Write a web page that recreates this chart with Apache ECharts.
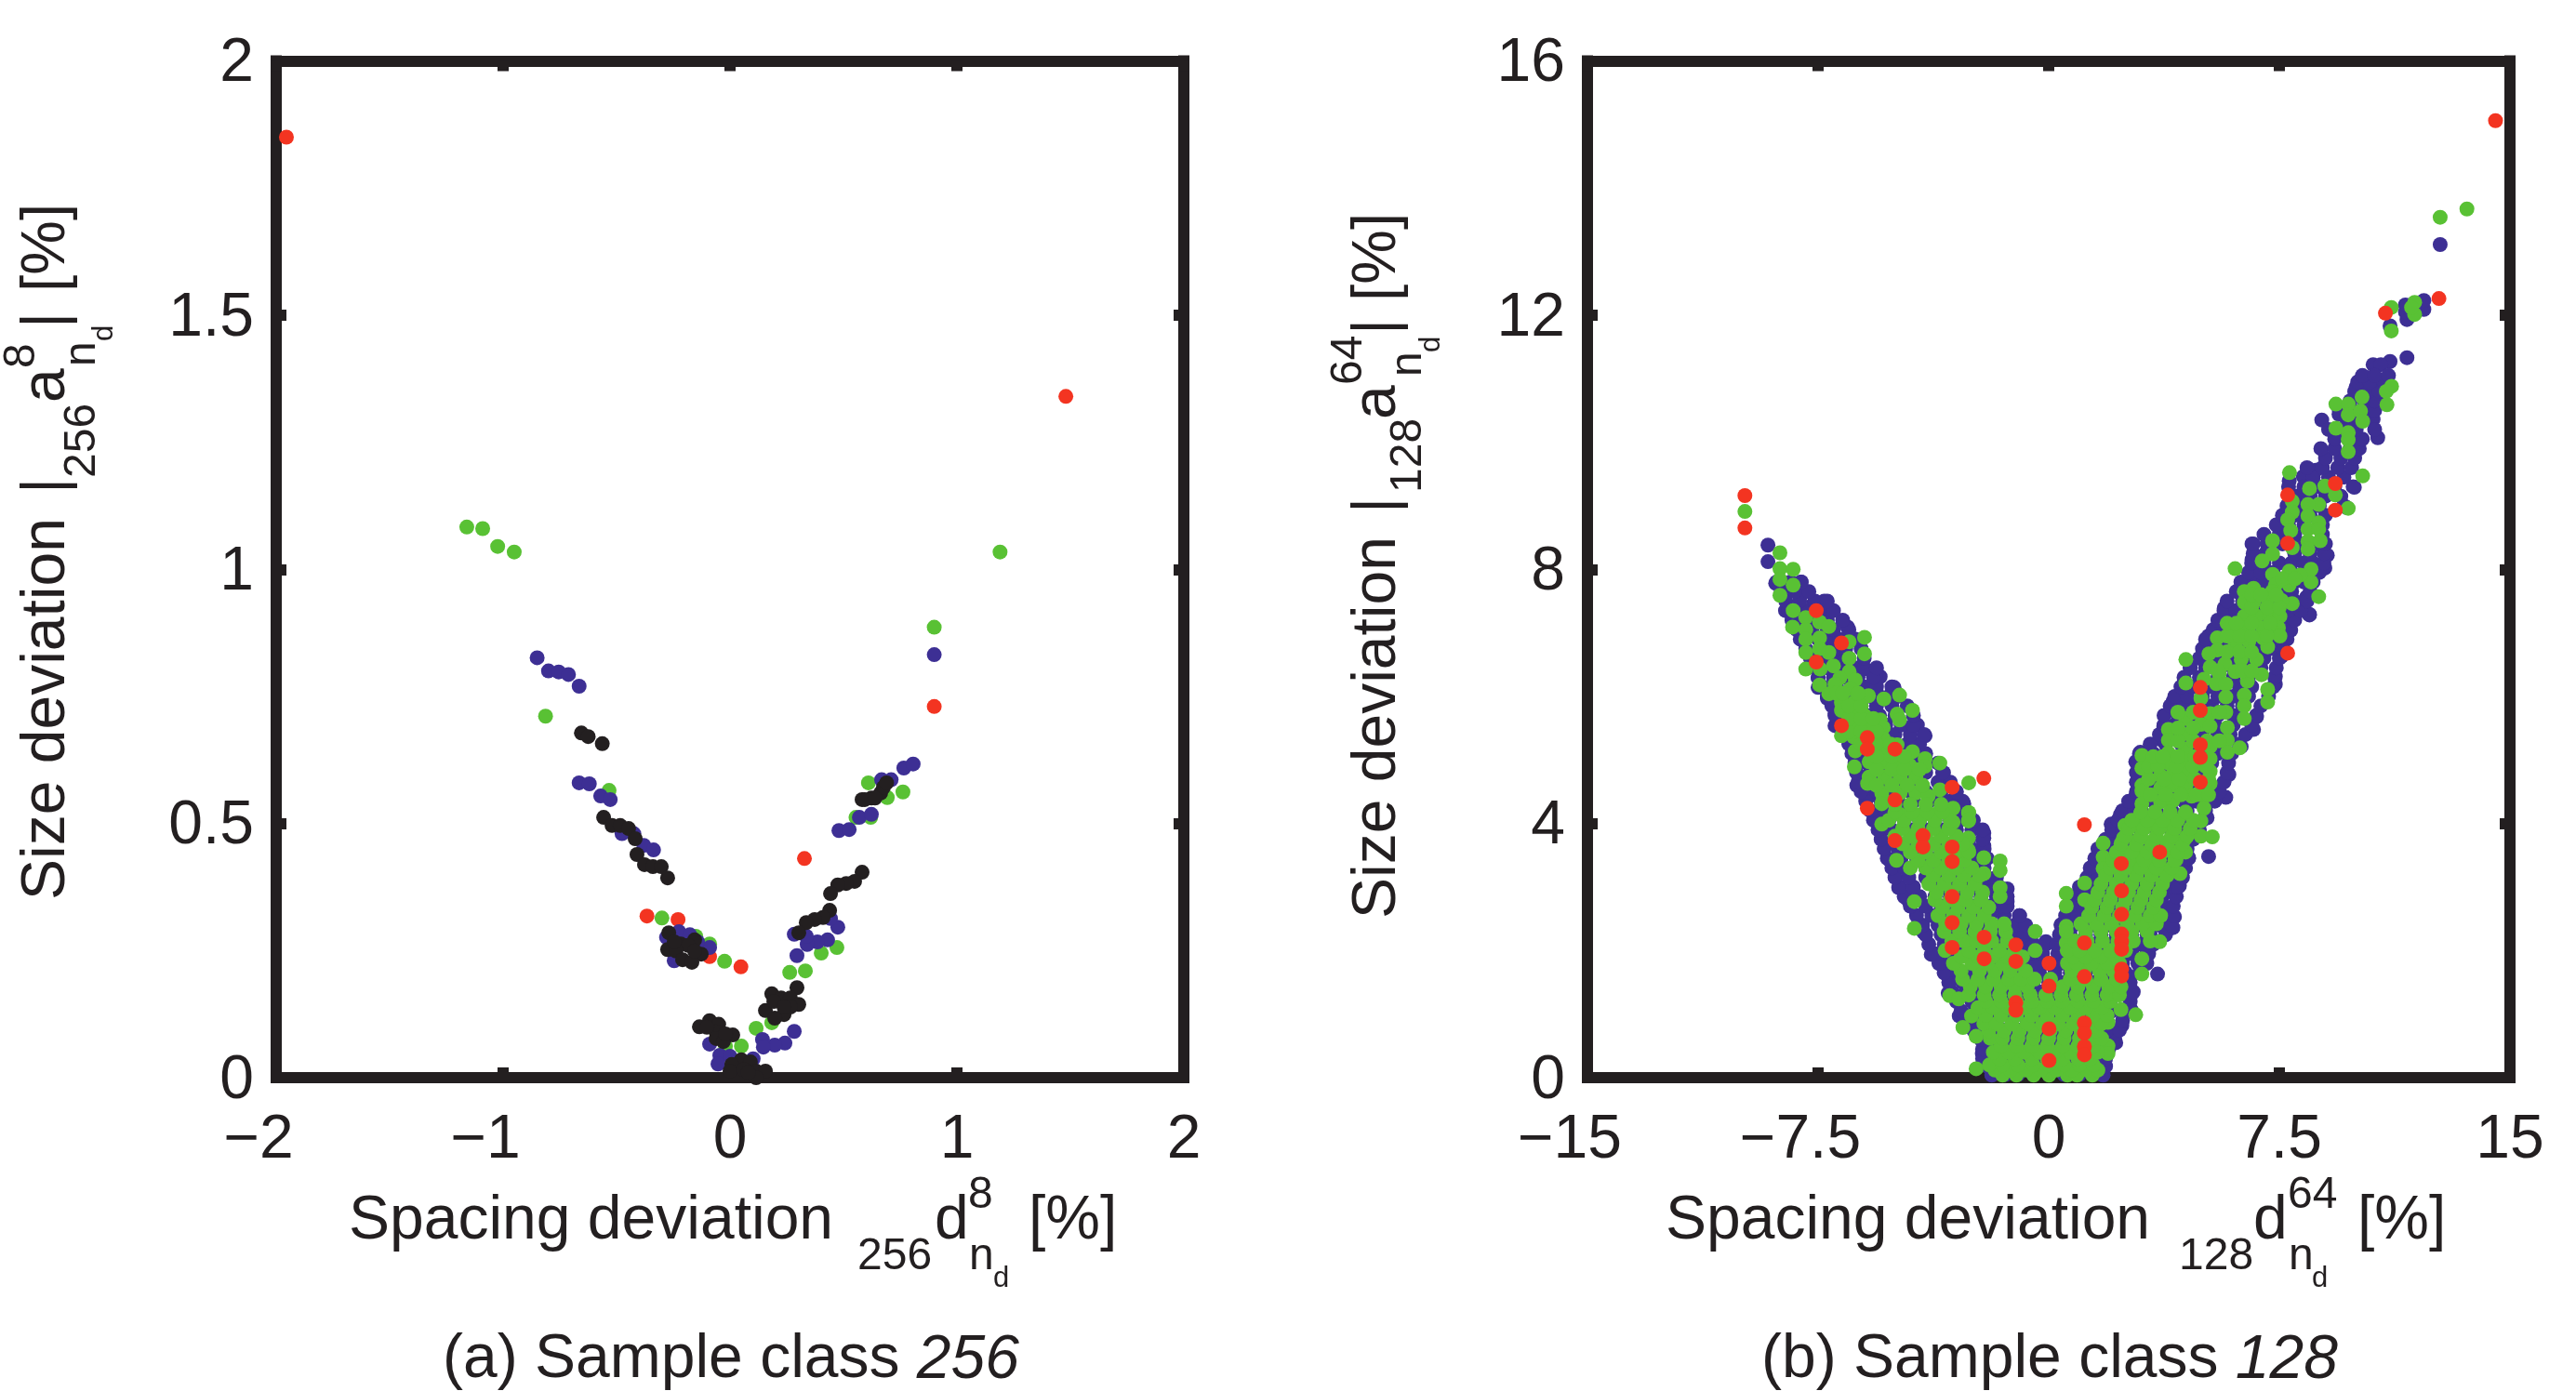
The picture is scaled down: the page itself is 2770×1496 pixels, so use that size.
<!DOCTYPE html>
<html>
<head>
<meta charset="utf-8">
<title>Size deviation vs spacing deviation</title>
<script src="https://cdn.jsdelivr.net/npm/echarts@6/dist/echarts.min.js"></script>
<style>
html, body { margin: 0; padding: 0; background: #fff; }
#chart { width: 2770px; height: 1496px; }
</style>
</head>
<body>
<div id="chart"></div>
<script>
// tick labels
var xTicks256 = ['\u22122', '\u22121', '0', '1', '2'];
var yTicks256 = ['0', '0.5', '1', '1.5', '2'];
var xTicks128 = ['\u221215', '\u22127.5', '0', '7.5', '15'];
var yTicks128 = ['0', '4', '8', '12', '16'];

// (a) sample class 256, [x, y]
var red256 = [[-1.955,1.85],[1.48,1.34],[0.9,0.73],[-0.366,0.318],[-0.229,0.311],[-0.09,0.238],[0.048,0.218],[0.328,0.431]];
var green256 = [[-1.16,1.083],[-1.09,1.08],[-1.024,1.045],[-0.951,1.034],[1.19,1.034],[0.9,0.886],[-0.813,0.711],
    [-0.533,0.565],[0.61,0.58],[0.762,0.562],[0.693,0.551],[0.555,0.512],[0.62,0.512],[-0.3,0.314],[-0.151,0.278],
    [-0.09,0.263],[-0.024,0.229],[0.263,0.207],[0.332,0.21],[0.402,0.245],[0.471,0.256],[0.115,0.097],[0.184,0.108],
    [0.05,0.062],[-0.02,0.062]];
var blue256 = [[-0.85,0.826],[-0.8,0.8],[-0.755,0.798],[-0.712,0.793],[-0.665,0.77],[0.9,0.832],[-0.665,0.58],[-0.62,0.578],
    [-0.57,0.554],[-0.528,0.547],[-0.476,0.48],[-0.424,0.48],[-0.38,0.457],[-0.337,0.448],[-0.28,0.276],[-0.225,0.287],
    [-0.177,0.281],[-0.246,0.23],[-0.09,0.256],[-0.143,0.267],[0.48,0.486],[0.525,0.488],[0.57,0.512],[0.623,0.518],
    [0.668,0.586],[0.71,0.586],[0.766,0.609],[0.807,0.617],[0.475,0.296],[0.43,0.271],[0.385,0.267],[0.34,0.262],
    [0.283,0.282],[0.336,0.278],[0.443,0.313],[0.295,0.24],[0.283,0.091],[0.242,0.068],[0.197,0.064],[0.143,0.075],
    [0.147,0.06],[-0.09,0.066],[-0.045,0.044],[0,0.042],[-0.053,0.027],[0.102,0.037]];
var black256 = [[-0.655,0.678],[-0.625,0.671],[-0.563,0.657],[-0.557,0.512],[-0.52,0.496],[-0.484,0.496],[-0.447,0.49],
    [-0.418,0.47],[-0.41,0.439],[-0.377,0.419],[-0.34,0.415],[-0.303,0.415],[-0.275,0.393],[-0.27,0.285],[-0.156,0.271],
    [-0.275,0.252],[-0.217,0.263],[-0.184,0.26],[-0.238,0.249],[-0.127,0.243],[-0.209,0.232],[-0.168,0.227],[-0.156,0.249],
    [-0.246,0.267],[0.582,0.404],[0.549,0.386],[0.512,0.382],[0.475,0.379],[0.443,0.362],[0.439,0.329],[0.41,0.315],
    [0.373,0.311],[0.336,0.305],[0.303,0.285],[0.582,0.547],[0.623,0.55],[0.664,0.56],[0.676,0.571],[0.594,0.547],
    [0.639,0.55],[0.69,0.58],[0.295,0.177],[0.184,0.165],[0.225,0.157],[0.266,0.157],[0.303,0.144],[0.266,0.139],
    [0.156,0.132],[0.238,0.124],[0.197,0.117],[0.193,0.15],[0.238,0.139],[-0.135,0.1],[-0.09,0.112],[-0.05,0.105],
    [-0.061,0.09],[-0.102,0.099],[0.012,0.084],[-0.061,0.077],[-0.029,0.071],[-0.02,0.086],[0.05,0.035],[0.008,0.026],
    [0.09,0.031],[0,0.013],[0.06,0.016],[0.115,0.013],[0.156,0.013],[0.115,0],[0.08,0.01]];

// (b) sample class 128, [x, y]
var red128 = [[14.53,15.06],[12.69,12.26],[10.95,12.03],[-9.88,9.16],[-9.88,8.65],[9.32,9.35],[7.77,9.17],[9.32,8.93],[7.77,8.41],
    [7.77,6.68],[4.93,6.14],[4.93,5.78],[4.93,5.24],[4.93,5.04],[4.93,4.65],[3.61,3.55],[2.36,3.37],[1.16,3.98],[2.37,2.94],
    [2.37,2.57],[2.37,2.26],[2.37,2.14],[2.37,2.02],[2.37,1.71],[2.37,1.6],[1.16,2.12],[1.16,1.59],[0.01,1.8],[0.01,1.44],
    [-1.07,2.09],[-1.07,1.83],[-1.07,1.18],[-1.07,1.06],[0.01,0.77],[0.01,0.27],[1.16,0.86],[1.16,0.7],[1.16,0.49],[1.16,0.36],
    [-2.1,2.21],[-2.1,1.87],[-3.14,2.85],[-3.14,2.44],[-3.14,2.05],[-3.14,3.63],[-3.14,3.4],[-4.09,3.81],[-4.09,3.63],[-5,4.37],
    [-5,3.73],[-3.14,4.57],[-7.56,7.35],[-6.74,6.84],[-7.56,6.54],[-6.74,5.54],[-5.9,5.35],[-5.9,5.17],[-5,5.17],[-5.9,4.24],
    [-2.11,4.71]];

// outer dots of the blue band plus stray ones
var blueEdge128 = [[12.73,13.11],[11.1,11.83],[11.65,11.93],[11.6,12.05],[12.2,12.09],[12.2,12.23],[11.6,12.16],[11.65,11.33],
    [11.1,11.27],[10.55,11.22],[10.8,11.22],[10.3,11.02],[10.6,10.97],[10.4,10.85],[10.7,10.78],[10,10.87],[8.88,10.35],
    [9.44,10.44],[10.7,10.07],[10.55,10.36],[10.7,10.66],[8.68,9.56],[8.28,9.46],[7.82,9.39],[9.94,9.29],[9.69,8.97],
    [9.06,8.22],[8.98,8.02],[8.48,7.29],[8.48,7.28],[8.38,7.56],[7.42,8.69],[6.61,8.4],[6.61,8.15],[6.61,7.8],[6.21,7.66],
    [5.71,7.39],[5.55,7.17],[5.2,6.95],[4.6,6.46],[4.04,5.92],[4.04,5.8],[3.74,5.53],[3.69,5.31],[2.98,5.12],[2.83,4.97],
    [2.83,4.43],[2.33,4.14],[2.03,3.99],[1.37,3.17],[1.02,2.97],[0.41,2.41],[5.2,3.48],[5.15,4.09],[5.76,4.41],[5.86,4.77],
    [6.26,5.21],[6.66,5.48],[6.76,5.68],[7.37,6.19],[7.37,6.31],[7.57,6.63],[7.87,7.04],[7.92,7.19],[3.54,1.63],[4.09,2.53],
    [4.04,2.36],[4.25,3.02],[4.55,3.46],[-9.13,8.38],[-9.13,8.12],[-8.88,7.78],[-8.56,7.35],[-8.08,6.9],[-8.05,7.8],[-8.05,7.6],
    [-7.3,7.5],[-7.65,7.46],[-6.54,7.09],[-6.29,6.9],[-5.99,6.43],[-5.48,6.31],[-5.63,6.34],[-5.03,6.14],[-4.27,5.55],[-4.02,5.38],
    [-4.02,5.07],[-3.42,4.8],[-2.81,4.34],[-2.11,3.85],[-2.76,4.31],[-2.11,3.77],[-2.11,3.65],[-1.35,2.97],[-1.35,2.77],[-0.95,2.55],
    [-0.7,2.33],[-0.09,2.14],[-7.5,6.29],[-7.5,6.14],[-7.2,5.97],[-6.95,5.73],[-6.95,5.54],[-6.29,4.97],[-6.24,4.6],[-5.84,4.43],
    [-5.53,4.14],[-5.43,3.9],[-5.18,3.43],[-4.88,2.99],[-4.58,2.8],[-4.07,2.29],[-3.82,1.94],[-3.57,1.8],[-3.27,1.6],[-3.27,1.33],
    [-2.91,0.97],[-2.16,0.63],[-2.16,0.38],[-1.85,0.04],[1.77,0.04],[2.18,0.55],[2.38,0.82],[2.68,1.07],[2.68,1.31],[3.19,1.8],[3.19,1.99]];
// rows of the blue band: first value is y, the rest are x
var blueRows128 = [
    [0.05,-1.85,-1.4,-1,-0.5,0,0.5,1,1.4,1.75],
    [0.18,-2,-1.6,-1.1,-0.6,-0.1,0.4,0.9,1.2,1.6,1.85],
    [0.3,-2.15,-1.7,-1.2,-0.7,-0.2,0.3,0.8,1.3,1.85],
    [0.45,-2.15,-1.75,-1.2,-0.7,-0.2,0.3,0.8,1.1,1.5,1.95],
    [0.6,-2.2,-1.8,-1.3,-0.8,-0.3,0.2,0.7,1.2,1.7,2.15],
    [0.75,-2.45,-2,-1.5,-1,-0.5,0,0.5,1,1.5,1.9,2.3],
    [0.9,-2.7,-2.2,-1.7,-1.2,-0.7,-0.3,0,0.3,0.6,0.9,1.2,1.5,1.8,2.4],
    [1.05,-2.85,-2.4,-2,-1.5,-1,-0.5,0,0.5,1,1.5,2.05,2.6],
    [1.2,-3,-2.5,-2,-1.5,-1,-0.5,0,0.5,1,1.5,2,2.65],
    [1.35,-3.15,-2.7,-2.2,-1.7,-1.2,-0.7,-0.2,0.3,0.8,1.3,1.8,2.3,2.75],
    [1.5,-3.25,-2.8,-2,-1.5,-1,-0.5,0,0.4,0.7,1,1.5,2,2.65],
    [1.65,-3.4,-2.95,-2.5,-2,-1.5,-1,-0.7,-0.3,0.2,0.7,1.2,1.7,2.2,2.5,2.95],
    [1.8,-3.55,-3.1,-2.3,-1.7,-1.2,-0.8,-0.4,0,0.4,0.8,1,1.5,2,2.4,2.9,3.15],
    [1.95,-3.7,-3.25,-2.8,-2.3,-1.8,-1.3,-1,-0.6,-0.2,0.3,0.8,1.3,1.8,2.3,2.7,3.25],
    [2.1,-3.9,-3.4,-2.5,-2,-1.5,-0.9,-0.5,-0.1,0.25,1,1.5,2,2.5,3,3.4],
    [2.25,-4,-3.5,-3,-2.5,-2,-1.6,-1.2,-0.8,0.35,0.7,1.2,1.7,2.2,2.7,3.2,3.3,3.8],
    [2.4,-4.1,-3.6,-3,-2.5,-2,-1.5,-1.1,-0.75,0.4,0.8,1.5,2,2.5,3,3.6,4],
    [2.55,-4.3,-3.8,-3.3,-2.8,-2.3,-1.9,-1.45,-0.95,0.55,0.95,1.4,1.9,2.4,2.9,3.5,4.05],
    [2.7,-4.5,-4,-3.5,-3,-2.5,-2,-1.6,-1.35,0.7,1.1,1.5,2,2.5,3,3.2,3.7,4.05],
    [2.85,-4.7,-4.2,-3.7,-3.2,-2.7,-2.2,-1.7,-1.35,0.85,1.25,1.7,2.2,2.7,3.2,3.7,4.15],
    [3,-4.85,-4.4,-3.5,-3,-2.5,-2,-1.6,1,1.5,2,2.5,3,3.5,3.9,4.2],
    [3.15,-5,-4.55,-4,-3.5,-3,-2.5,-2,-1.7,1.25,1.6,1.9,2.4,2.9,3.4,3.9,4.35],
    [3.3,-5.1,-4.7,-4,-3.5,-3,-2.5,-2.1,1.35,1.8,2.3,2.8,3.2,3.5,4.1,4.45],
    [3.45,-5.25,-4.8,-4.3,-3.8,-3.3,-2.8,-2.3,-2,1.5,1.9,2.3,2.8,3.3,3.8,4.1,4.55],
    [3.6,-5.35,-4.9,-4.3,-3.5,-3,-2.5,-2.1,1.6,2,2.5,3,3.5,4,4.5],
    [3.75,-5.45,-5,-4.5,-4,-3.5,-3,-2.6,-2.15,1.85,2.2,2.6,3,3.5,4,4.2,4.7],
    [3.9,-5.55,-5.1,-4.5,-4,-3.5,-3,-2.5,-2.15,2.05,2.4,3,3.5,4,4.5,4.9],
    [4.05,-5.7,-5.2,-4.7,-4.2,-3.7,-3.2,-2.9,-2.45,2.25,2.6,3,3.4,3.9,4.2,4.5,5],
    [4.2,-5.8,-5.3,-4.6,-4,-3.5,-3,-2.75,2.4,2.8,3,3.5,4,4.5,5.1],
    [4.35,-5.95,-5.45,-4.9,-4.4,-3.9,-3.5,-3.2,-2.8,2.6,3,3.4,3.9,4.4,4.8,5.4],
    [4.5,-6.1,-5.6,-5,-4.5,-4,-3.5,-3,2.85,3.2,3.5,4,4.5,5,5.55],
    [4.65,-6.2,-5.7,-5.2,-4.7,-4.2,-3.6,-3.2,2.85,3.2,3.6,4.1,4.6,5,5.1,5.7],
    [4.8,-6.25,-5.8,-5.3,-5,-4.5,-4,-3.45,2.85,3.3,3.6,4,4.5,5,5.8],
    [4.95,-6.3,-5.9,-5.4,-4.9,-4.4,-4,-3.6,2.9,3.3,3.7,4.2,4.7,5.1,5.3,5.85],
    [5.1,-6.4,-6,-5.5,-5,-4.4,-4,2.95,3.4,3.8,4.5,5,5.5,5.95],
    [5.25,-6.5,-6.1,-5.6,-5.1,-4.6,-4.2,3.3,3.8,4.3,4.8,5.1,5.5,6.2],
    [5.4,-6.6,-6.2,-5.6,-5,-4.5,-4.05,3.6,4,4.5,5,5.5,5.9,6.4],
    [5.55,-6.8,-6.3,-5.8,-5.3,-4.8,-4.4,3.75,4.1,4.4,4.9,5.4,6,6.6],
    [5.7,-6.95,-6.4,-5.9,-5.5,-5,-4.4,3.75,4.2,4.6,5,5.5,6,6.75],
    [5.85,-7.05,-6.6,-6.1,-5.6,-5.1,-4.6,3.95,4.4,4.8,5.3,5.8,6.3,6.9],
    [6,-7.2,-6.8,-6.3,-5.8,-5.5,-5.2,-4.9,4.1,4.5,5,5.5,6,6.5,7.15],
    [6.15,-7.35,-6.9,-6.4,-6,-5.6,-5.1,4.3,4.7,5.2,5.7,6.2,6.6,7.3],
    [6.3,-7.5,-7,-6.6,-6.2,-5.7,4.4,4.9,5,5.5,6,6.5,7.35],
    [6.45,-7.6,-7.2,-6.7,-6.2,-6,-5.6,4.6,5.1,5.6,6,6.5,6.9,7.4],
    [6.6,-7.75,-7.3,-6.9,-6.5,-6,4.9,5.3,5.5,6,6.5,7,7.5],
    [6.75,-7.9,-7.4,-6.9,-6.6,-6.1,5,5.4,5.8,6.3,6.8,7.2,7.6],
    [6.9,-8.05,-7.5,-7.2,-6.8,-6.3,5.1,5.5,6,6.5,7,7.4,7.75],
    [7.05,-8.2,-7.7,-7.2,-7,-6.5,5.35,5.7,6.1,6.6,7.1,7.3,7.85],
    [7.2,-8.35,-7.9,-7.5,-7.2,-6.7,5.5,5.9,6,6.5,7,7.5,8],
    [7.35,-8.45,-8,-7.4,-7,5.7,6.1,6.5,7,7.4,7.8,8.2],
    [7.5,-8.55,-8.1,-7.6,-7.2,5.8,6.3,6.6,7,7.5,8,8.4],
    [7.65,-8.7,-8.25,-7.8,6.1,6.6,7.2,7.6,7.9,8.5],
    [7.8,-8.85,-8.4,-8.05,6.25,6.7,7,7.5,8,8.3,8.6],
    [7.95,6.5,6.9,7.3,7.9,8.3,8.8],
    [8.1,6.6,7,7.5,7.9,8.3,8.6,8.95],
    [8.25,6.65,7.05,8,8.5,8.95],
    [8.4,6.65,7.1,7.6,8.2,8.7,9],
    [8.55,7,7.5,8,8.9],
    [8.7,7.4,7.8,8.3,8.9],
    [8.85,7.6,8,8.5,9],
    [9,7.75,8.2,8.8,9.6],
    [9.15,8.05,8.5,9,9.5],
    [9.3,7.8,8.3,8.8,9.3,9.9],
    [9.45,8.6,9.1,9.6],
    [9.6,8.4,8.9,9.4,9.85],
    [9.75,9,9.5,9.95],
    [9.9,8.85,9.3,9.8,10.1],
    [10.05,9.3,9.8,10.2],
    [10.2,9.1,9.5,10,10.6],
    [10.35,9.7,10.1],
    [10.5,9.45,9.9,10.3,10.6],
    [10.65,9.8,10.25,10.6],
    [10.8,9.95,10.4,10.75],
    [10.95,10.05,10.45,10.9],
    [11.05,10.2,10.6,11.05]
];

var greenDots128 = [[12.73,13.54],[13.6,13.67],[-9.88,8.91],[11.14,12.12],[11.9,12.2],[11.9,12.01],[11.14,11.75],[11.8,12.12],
    [11.15,10.88],[10.98,10.8],[11,10.59],[10.19,10.71],[9.34,10.6],[9.74,10.6],[9.74,10.43],[10.14,10.49],[10.21,10.33],[9.34,10.22],
    [9.74,10.15],[9.74,10.04],[9.74,9.85],[10.21,9.47],[7.83,9.52],[9.32,9.17],[9.74,8.96],[8.48,9.27],[8.98,9.31],[8.78,9.02],
    [8.43,9.02],[7.92,9.07],[7.92,8.9],[7.77,8.78],[7.87,8.61],[7.92,8.34],[8.43,8.84],[8.78,8.73],[8.43,8.63],[8.78,8.63],[8.43,8.44],
    [8.83,8.45],[8.43,8.32],[7.28,8.45],[7.28,8.24],[6.94,8.13],[6.06,8.01],[8.53,8],[8.53,7.8],[8.78,7.57],[7.82,7.97],[8.18,7.91],
    [7.28,7.92],[7.82,7.75],[7.37,7.75],[7.92,7.46],[7.27,7.65],[7.57,7.51],[7.12,7.53],[6.66,7.7],[6.36,7.65],[6.36,7.48],[6.66,7.48],
    [6.36,7.26],[6.76,7.26],[7.17,7.26],[7.52,7.26],[6.06,7.08],[6.46,7.08],[6.97,7.08],[7.47,7.08],[7.52,6.95],[7.12,6.78],[6.06,6.82],
    [6.51,6.87],[6.97,6.92],[5.48,6.92],[5.48,6.73],[5.21,6.67],[4.46,6.58],[5.25,6.46],[5.73,6.51],[6.26,6.58],[6.76,6.58],[6.92,6.34],
    [6.46,6.24],[6.06,6.39],[5.55,6.36],[5.05,6.27],[4.46,6.21],[5.45,6.2],[5.76,6.19],[7.12,6.11],[7.12,5.91],[6.36,6.02],[6.36,5.85],
    [6.36,5.65],[5.76,5.99],[5.76,5.75],[5.81,5.51],[5.81,5.31],[5.81,5.12],[6.21,5.19],[4.95,5.97],[5.25,5.73],[4.45,5.65],[4.95,5.56],
    [5.25,5.53],[3.89,5.48],[3.89,5.31],[4.35,5.41],[3.89,5.11],[3.89,4.95],[3.03,5.07],[3.03,4.87],[5.25,5.21],[4.45,5.17],[5.25,5.02],
    [4.45,4.97],[5.25,4.82],[4.45,4.78],[5.25,4.63],[3.64,4.75],[4.04,4.78],[3.03,4.6],[3.03,4.51],[3.64,4.56],[4.04,4.6],[4.45,4.58],
    [5.05,4.43],[4.65,4.43],[3.03,4.31],[3.64,4.34],[4.04,4.36],[5.05,4.24],[4.45,4.17],[2.98,4.15],[3.44,4.14],[3.94,4.14],[4.95,4.04],
    [2.48,3.97],[2.98,3.95],[3.49,3.95],[3.99,3.95],[4.95,3.8],[5.32,3.79],[2.43,3.77],[2.93,3.75],[3.44,3.75],[3.94,3.75],[4.45,3.77],
    [1.77,3.69],[2.33,3.58],[2.88,3.55],[4.04,3.55],[4.45,3.55],[1.77,3.47],[3.34,3.36],[2.83,3.36],[1.77,3.29],[4.14,3.43],[4.27,3.21],
    [2.33,3.26],[3.74,3.26],[1.17,3.06],[0.57,2.9],[0.57,2.7],[1.17,2.8],[0.57,2.38],[0.57,2.12],[3.03,1.87],[3.03,1.63],[3.61,2.14],
    [2.35,1.07],[2.83,0.99],[1.93,0.87],[1.93,0.5],[1.93,0.38],[-2.36,0.14],[-2.36,0.65],[-2.79,0.79],[-2.51,0.97],[-3.22,1.29],[-2.93,1.24],
    [-4.37,2.77],[-4.37,2.35],[-1.58,3.41],[-1.58,3.26],[-1.58,2.99],[-1.58,2.85],[-2.11,3.46],[-2.11,3.21],[-2.61,3.77],[-2.61,3.58],
    [-2.61,4.17],[-2.61,4.04],[-5.43,3.99],[-5.38,4.38],[-4.95,3.42],[-8.74,8.26],[-8.74,8.01],[-8.31,8],[-8.74,7.84],[-8.31,7.75],[-8.74,7.59],
    [-8.31,7.35],[-8.33,7.09],[-7.9,7.24],[-7.45,7.17],[-7.15,7.1],[-7.9,7.05],[-7.9,6.9],[-7.45,6.92],[-6.49,6.86],[-5.99,6.93],[-5.99,6.67],
    [-6.49,6.6],[-7.45,6.75],[-7.15,6.69],[-7.9,6.69],[-7.9,6.43],[-7.43,6.43],[-7,6.48],[-6.49,6.39],[-6.29,6.26],[-6.79,6.29],[-7.45,6.18],
    [-7.15,6.04],[-6.95,6.19],[-6.44,6.12],[-5.86,6.01],[-5.36,5.96],[-4.85,6.02],[-4.43,5.78],[-4.93,5.72],[-4.85,5.63],[-6.74,5.9],[-6.34,5.9],
    [-6.74,5.78],[-6.34,5.75],[-5.99,5.7],[-5.48,5.63],[-6.34,5.56],[-5.84,5.51],[-5.38,5.51],[-6.74,5.38],[-6.34,5.36],[-5.38,5.34],[-6.29,5.14],
    [-4.93,5.24],[-5.43,5.17],[-4.43,5.13],[-4.02,5.02],[-4.02,4.9],[-3.54,4.95],[-6.32,4.89],[-5.84,4.97],[-5.33,4.97],[-4.93,4.97],[-4.53,4.92],
    [-5.84,4.73],[-5.89,4.63],[-5.33,4.73],[-4.83,4.73],[-4.32,4.73],[-5.43,4.48],[-5.43,4.31],[-4.83,4.48],[-4.32,4.48],[-3.92,4.43],[-3.54,4.53],
    [-2.6,4.64],[-3.11,4.24],[-3.11,4.02],[-3.52,4.21],[-2.6,4.17],[-2.6,4.06],[-4.83,4.14],[-4.32,4.14],[-3.82,4.14]];
// rows of the green core: first value is y, the rest are x
var greenRows128 = [
    [0.04,-1.5,-1.05,-0.49,0.01,0.61,0.92,1.42],
    [0.12,-1.75,-1.25,-0.75,-0.25,0.25,0.75,1.25,1.6],
    [0.2,-1.93,-1.5,-1,-0.5,0,0.5,1,1.45],
    [0.3,-1.6,-1.1,-0.55,-0.05,0.45,0.95,1.35],
    [0.4,-1.8,-1.3,-0.8,-0.3,0.2,0.7,1.2,1.6],
    [0.5,-1.55,-1.05,-0.55,-0.05,0.45,0.95,1.45],
    [0.62,-1.9,-1.5,-1,-0.5,0,0.5,1,1.42,1.72],
    [0.74,-1.95,-1.45,-0.95,-0.45,0.05,0.55,1.05,1.55],
    [0.85,-2.11,-1.7,-1.2,-0.7,-0.2,0.3,0.8,1.3,1.72],
    [0.98,-2.05,-1.55,-1.05,-0.55,-0.05,0.45,0.95,1.45,1.9],
    [1.1,-2.3,-1.8,-1.3,-0.8,-0.3,0.2,0.7,1.2,1.72],
    [1.2,-2.05,-1.55,-1.05,-0.55,-0.05,0.45,0.95,1.45,2],
    [1.3,-2.6,-2.1,-1.6,-1.1,-0.6,-0.1,0.4,0.9,1.4,1.9,2.3],
    [1.43,-2.55,-2.05,-1.55,-1.1,-0.7,0.45,0.95,1.45,1.95,2.35],
    [1.55,-2.8,-2.3,-1.8,-1.3,-0.9,-0.46,0.06,0.7,1.2,1.7,2.2],
    [1.68,-2.85,-2.25,-1.75,-1.25,-0.75,0.75,1.15,1.65,2.1],
    [1.8,-3.1,-2.5,-2,-1.5,-1,0.61,0.9,1.4,1.9,2.3],
    [1.9,-2.85,-2.3,-1.85,-1.35,-0.85,0.8,1.2,1.7,2.2],
    [2,-3.37,-2.6,-2.1,-1.6,-1.1,-0.44,0.6,1,1.5,2,2.5],
    [2.15,-3.15,-2.75,-2.35,-1.85,-1.35,0.85,1.25,1.75,2.25,2.75,3.3],
    [2.3,-3.4,-2.9,-2.4,-1.9,-1.4,-0.44,0.57,1.2,1.7,2.2,2.7,3.2],
    [2.42,-3.35,-2.85,-2.35,-1.85,-1.45,1.05,1.55,2.05,2.55,3.05,3.5],
    [2.55,-3.6,-3.1,-2.6,-2.1,1.3,1.8,2.3,2.8,3.3,3.64],
    [2.68,-3.45,-2.95,-2.45,-1.95,1.4,1.9,2.4,2.9,3.4],
    [2.8,-3.7,-3.2,-2.7,-2.2,1.5,2,2.5,3,3.5],
    [2.92,-3.65,-3.15,-2.65,-2.15,1.6,2.1,2.6,3.1,3.6],
    [3.05,-3.9,-3.4,-2.9,-2.4,1.7,2.2,2.7,3.2,3.7],
    [3.18,-3.75,-3.25,-2.75,-2.25,1.85,2.35,2.85,3.35,3.85],
    [3.3,-4.5,-4,-3.5,-3,-2.5,2,2.5,3,3.5,4],
    [3.42,-4.25,-3.75,-3.25,-2.75,2.1,2.6,3.1,3.6,4.1],
    [3.55,-4.5,-4,-3.5,-3,-2.6,2.2,2.7,3.2,3.7,4.2],
    [3.68,-4.75,-4.25,-3.75,-3.25,-2.8,2.35,2.85,3.35,3.85,4.35],
    [3.8,-5,-4.5,-4,-3.5,-3,2.5,3,3.5,4,4.5],
    [3.92,-4.75,-4.25,-3.75,-3.25,2.6,3.1,3.6,4.1,4.6],
    [4.05,-5.2,-4.7,-4.2,-3.7,-3.2,2.7,3.2,3.7,4.2,4.7],
    [4.18,-5,-4.45,-3.95,-3.45,3,3.45,3.95,4.45],
    [4.3,-5,-4.5,-4,-3.5],
    [4.45,3.3,3.8,4.3,4.8,5.2],
    [4.6,-5.6,-5.1,-4.6,-4.1],
    [4.7,3.25,3.75,4.25,4.75,5.2],
    [4.85,-5.6,-5.1,-4.7,-4.2],
    [4.9,3.25,3.55,4.15,4.7,5.1],
    [5.05,-5.6,-5.1,-4.7,3.4,3.7,4.2,4.75],
    [5.25,-6.1,-5.6,-5.15],
    [5.3,4.2,4.7,5.15,5.55],
    [5.45,-6.5,-6.1,-5.6],
    [5.5,4.2,4.7],
    [5.65,-6.5,-6.1,-5.7],
    [5.75,4.2,4.7,5.55],
    [5.85,-6.5,-6.1],
    [6.05,-6.9,-6.7,-6.2],
    [6.4,5.5,6.3,6.6],
    [6.7,5.8,6.2,6.6],
    [6.95,5.8,6.2,6.6,7.1],
    [7.15,5.8,6.1,6.6,7.2],
    [7.4,6.6,7.1,7.5],
    [7.6,6.6,6.9,7.4],
    [7.85,7.6,8]
];

function flatRows(rows) {
    var out = [];
    rows.forEach(function (r) {
        for (var i = 1; i < r.length; i++) out.push([r[i], r[0]]);
    });
    return out;
}
var blue128 = blueEdge128.concat(flatRows(blueRows128));
var green128 = greenDots128.concat(flatRows(greenRows128));

var FONT = '"Liberation Sans", Arial, sans-serif';
var INK = '#231f20';
var RED = '#f33421';
var GREEN = '#59c134';
var BLUE = '#3d2f94';
var DOT = 16;
var MID = 0.27; // em distance from text middle to baseline

function tickFormatter(labels) {
    return function (v, i) {
        var t = labels[i];
        // minus sign hangs to the left of the tick, so pad the other side
        return t.charAt(0) === '\u2212' ? '{t|' + t + '}{s| }' : '{t|' + t + '}';
    };
}
function makeAxis(type, pos, grid, min, max, interval, labels, margin) {
    var a = {
        type: 'value', gridIndex: grid, position: pos, min: min, max: max, interval: interval,
        splitLine: { show: false },
        axisLine: { show: true, onZero: false, lineStyle: { color: INK, width: 12, cap: 'square' } },
        axisTick: { show: true, inside: true, length: 11, lineStyle: { color: INK, width: 12 } },
        axisLabel: { show: false }
    };
    if (labels) {
        a.axisLabel = {
            show: true, margin: margin, color: INK, fontFamily: FONT, fontSize: 66,
            hideOverlap: false, showMinLabel: true, showMaxLabel: true
        };
        if (type === 'x') {
            a.axisLabel.formatter = tickFormatter(labels);
            a.axisLabel.rich = {
                t: { fontFamily: FONT, fontSize: 66, color: INK },
                s: { fontFamily: FONT, fontSize: 66, width: 38 }
            };
        } else {
            // digits sit a touch below the tick
            a.axisLabel.formatter = function (v, i) { return '{t|' + labels[i] + '}'; };
            a.axisLabel.rich = { t: { fontFamily: FONT, fontSize: 66, color: INK, padding: [7, 0, 0, 0] } };
        }
    }
    return a;
}
function dots(name, grid, data, color, z) {
    return {
        name: name, type: 'scatter', xAxisIndex: grid * 2, yAxisIndex: grid * 2, data: data,
        symbolSize: DOT, clip: false, z: z, silent: true,
        itemStyle: { color: color, opacity: 1 }
    };
}
// text piece placed by its baseline
function txt(x, y, s, size) {
    return {
        type: 'text', x: x, y: y - MID * size, silent: true,
        style: { text: s, fontFamily: FONT, fontSize: size, fill: INK, align: 'left', verticalAlign: 'middle' }
    };
}
// same, turned to read upward
function vtxt(x, y, s, size) {
    return {
        type: 'text', x: x - MID * size, y: y, rotation: Math.PI / 2, silent: true,
        style: { text: s, fontFamily: FONT, fontSize: size, fill: INK, align: 'left', verticalAlign: 'middle' }
    };
}
function caption(x, y, head, num) {
    return {
        type: 'text', x: x, y: y - MID * 66, silent: true,
        style: {
            text: '{n|' + head + ' }{i|' + num + '}', align: 'center', verticalAlign: 'middle',
            rich: {
                n: { fontFamily: FONT, fontSize: 66, fill: INK, color: INK },
                i: { fontFamily: FONT, fontSize: 66, fontStyle: 'italic', fill: INK, color: INK }
            }
        }
    };
}

var titles = [
    // panel a, x title
    txt(375, 1332, 'Spacing deviation', 66), txt(922, 1365, '256', 48), txt(1005, 1332, 'd', 66),
    txt(1041, 1299, '8', 48), txt(1042, 1365, 'n', 48), txt(1068, 1384, 'd', 31), txt(1106, 1332, '[%]', 66),
    // panel a, y title
    vtxt(69, 968, 'Size deviation', 66), vtxt(69, 531, '|', 66), vtxt(102, 514, '256', 48), vtxt(69, 433, 'a', 66),
    vtxt(37, 396, '8', 48), vtxt(102, 394, 'n', 48), vtxt(121, 367, 'd', 31), vtxt(69, 353, '|', 66), vtxt(69, 314, '[%]', 66),
    // panel b, x title
    txt(1791, 1332, 'Spacing deviation', 66), txt(2343, 1365, '128', 48), txt(2423, 1332, 'd', 66),
    txt(2460, 1299, '64', 48), txt(2461, 1365, 'n', 48), txt(2486, 1384, 'd', 31), txt(2535, 1332, '[%]', 66),
    // panel b, y title
    vtxt(1500, 988, 'Size deviation', 66), vtxt(1500, 552, '|', 66), vtxt(1528, 530, '128', 48), vtxt(1500, 451, 'a', 66),
    vtxt(1464, 414, '64', 48), vtxt(1528, 405, 'n', 48), vtxt(1548, 379, 'd', 31), vtxt(1500, 360, '|', 66), vtxt(1500, 324, '[%]', 66),
    // captions
    caption(786, 1481, '(a) Sample class', '256'),
    caption(2204, 1481, '(b) Sample class', '128')
];

var myChart = echarts.init(document.getElementById('chart'), null, { renderer: 'canvas' });
var option = {
    backgroundColor: '#fff',
    animation: false,
    grid: [
        { left: 297, top: 65.5, width: 976, height: 1093.5 },
        { left: 1707, top: 65.5, width: 992, height: 1093.5 }
    ],
    xAxis: [
        makeAxis('x', 'bottom', 0, -2, 2, 1, xTicks256, 35),
        makeAxis('x', 'top', 0, -2, 2, 1),
        makeAxis('x', 'bottom', 1, -15, 15, 7.5, xTicks128, 35),
        makeAxis('x', 'top', 1, -15, 15, 7.5)
    ],
    yAxis: [
        makeAxis('y', 'left', 0, 0, 2, 0.5, yTicks256, 24),
        makeAxis('y', 'right', 0, 0, 2, 0.5),
        makeAxis('y', 'left', 1, 0, 16, 4, yTicks128, 24),
        makeAxis('y', 'right', 1, 0, 16, 4)
    ],
    series: [
        dots('red', 0, red256, RED, 2),
        dots('green', 0, green256, GREEN, 3),
        dots('blue', 0, blue256, BLUE, 4),
        dots('black', 0, black256, INK, 5),
        dots('blue', 1, blue128, BLUE, 2),
        dots('green', 1, green128, GREEN, 3),
        dots('red', 1, red128, RED, 4)
    ],
    graphic: titles
};
myChart.setOption(option);
</script>
</body>
</html>
